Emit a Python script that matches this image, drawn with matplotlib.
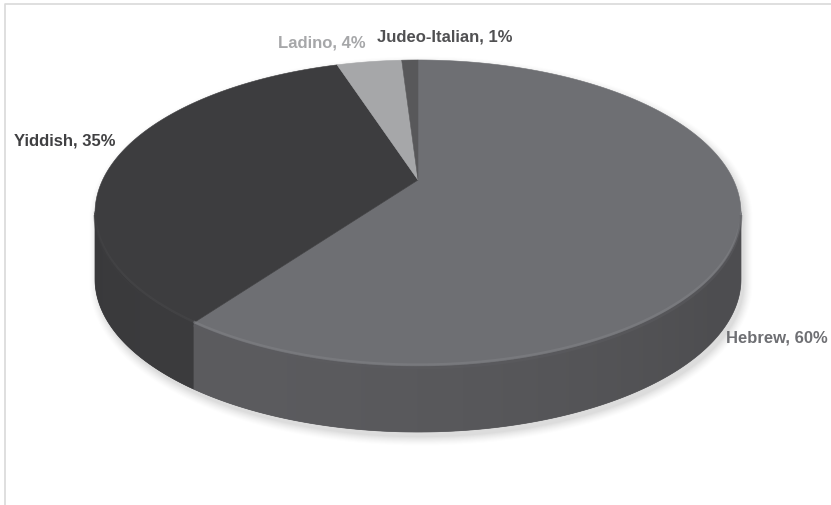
import numpy as np
import matplotlib
matplotlib.use("Agg")
import matplotlib.pyplot as plt
from matplotlib.patches import Polygon

plt.rcParams["font.family"] = ["Liberation Sans", "DejaVu Sans"]

# language shares (percent), pie runs clockwise from 12 o'clock
labels = ["Hebrew", "Yiddish", "Ladino", "Judeo-Italian"]
shares = [60, 35, 4, 1]
top_colors = ["#6e6f73", "#3d3d3f", "#a6a7a9", "#58585a"]
side_colors = ["#58585b", "#39393b", "#8c8d8f", "#4a4a4c"]
label_colors = ["#6e6f73", "#404042", "#a6a7a9", "#505052"]

W, H = 831, 505
# perspective disc: vertex position, half axes, foreshortening, thickness
X0, Y0 = 418.0, 180.0
AX, BY, PERSP = 315.4, 145.9, 0.2157
DEPTH = 66.0


def rim(theta_deg, r=1.0, dy=0.0):
    t = np.radians(np.asarray(theta_deg, dtype=float))
    u, v = r * np.sin(t), r * np.cos(t)
    den = 1 + PERSP * v
    return np.column_stack([X0 + AX * u / den, Y0 - BY * v / den + dy])


def shade(hexcol, m):
    c = np.array(matplotlib.colors.to_rgb(hexcol)) * m
    return np.clip(c, 0, 1)


def light(theta):
    return 0.88 + 0.16 * np.clip(np.cos(np.radians(theta - 215)), 0, None)


fig = plt.figure(figsize=(W / 100, H / 100), dpi=100)
ax = fig.add_axes([0, 0, 1, 1])
ax.set_xlim(0, W)
ax.set_ylim(H, 0)
ax.axis("off")

# chart frame (top and left edges fall inside the canvas)
ax.plot([4.5, 4.5, W + 5], [H + 5, 3.5, 3.5], color="#d9d9d9", lw=1.2, zorder=0)

# silhouette edge angles where the side wall turns away
edge = np.degrees(np.arccos(-PERSP))
back = np.linspace(360 - edge, 360 + edge, 200)
front = np.linspace(edge, 360 - edge, 200)
sil = np.vstack([rim(back), rim(front, dy=DEPTH)])

# soft drop shadow
for k, a in zip(range(8, 0, -1), np.linspace(0.02, 0.06, 8)):
    ax.add_patch(Polygon(sil + [3, 5], closed=True, fc="none", ec="#a0a0a0",
                         lw=k * 1.5, alpha=a, joinstyle="round", zorder=1))
ax.add_patch(Polygon(sil + [3, 5], closed=True, fc="#dcdcdc", ec="none", zorder=1))

bounds = np.concatenate([[0], np.cumsum(shares)]) / sum(shares) * 360

# lookup: screen x on the front rim -> rim angle (front half runs right to left)
fr_ang = np.linspace(edge, 360 - edge, 2000)
fr_x = rim(fr_ang)[:, 0]
cols = np.arange(0, W) + 0.5
col_ang = np.interp(cols, fr_x[::-1], fr_ang[::-1])

# side walls: horizontal lighting gradient clipped to each wall piece
for i in range(len(shares)):
    a1, a2 = max(bounds[i], edge), min(bounds[i + 1], 360 - edge)
    if a2 <= a1:
        continue
    arc = np.linspace(a1, a2, 300)
    wall = np.vstack([rim(arc), rim(arc[::-1], dy=DEPTH)])
    poly = Polygon(wall, closed=True, fc=side_colors[i], ec=side_colors[i],
                   lw=0.5, zorder=2)
    ax.add_patch(poly)
    base = np.array(matplotlib.colors.to_rgb(side_colors[i]))
    row = np.clip(base[None, :] * light(col_ang)[:, None], 0, 1)
    img = np.repeat(row[None, :, :], 2, axis=0)
    im = ax.imshow(img, extent=(0, W, H, 0), aspect="auto", interpolation="bilinear",
                   zorder=2.1)
    im.set_clip_path(poly)

# top faces
for i in range(len(shares)):
    arc = np.linspace(bounds[i], bounds[i + 1], max(int(bounds[i + 1] - bounds[i]) * 2, 4))
    pts = np.vstack([[X0, Y0], rim(arc)])
    ax.add_patch(Polygon(pts, closed=True, fc=top_colors[i], ec=top_colors[i],
                         lw=0.4, zorder=3))

# bevel: soft light line along the front rim of the top face
for i in range(len(shares)):
    a1, a2 = max(bounds[i], edge), min(bounds[i + 1], 360 - edge)
    if a2 <= a1:
        continue
    arc = np.linspace(a1, a2, 200)
    p = rim(arc, dy=-1.5)
    ax.plot(p[:, 0], p[:, 1], color=shade(top_colors[i], 1.15), lw=1.6, alpha=0.6,
            solid_capstyle="butt", zorder=4)
    p = rim(arc, dy=2.0)
    ax.plot(p[:, 0], p[:, 1], color=shade(side_colors[i], 1.05), lw=2.0, alpha=0.5,
            solid_capstyle="butt", zorder=4)

# data labels
label_pos = [(726, 338, "left"), (14, 141, "left"), (366, 43, "right"), (377, 37, "left")]
for name, val, col, (x, y, ha) in zip(labels, shares, label_colors, label_pos):
    ax.text(x, y, f"{name}, {val}%", color=col, fontsize=12, fontweight="bold",
            ha=ha, va="center", zorder=5)

fig.savefig("out.png", dpi=100)
